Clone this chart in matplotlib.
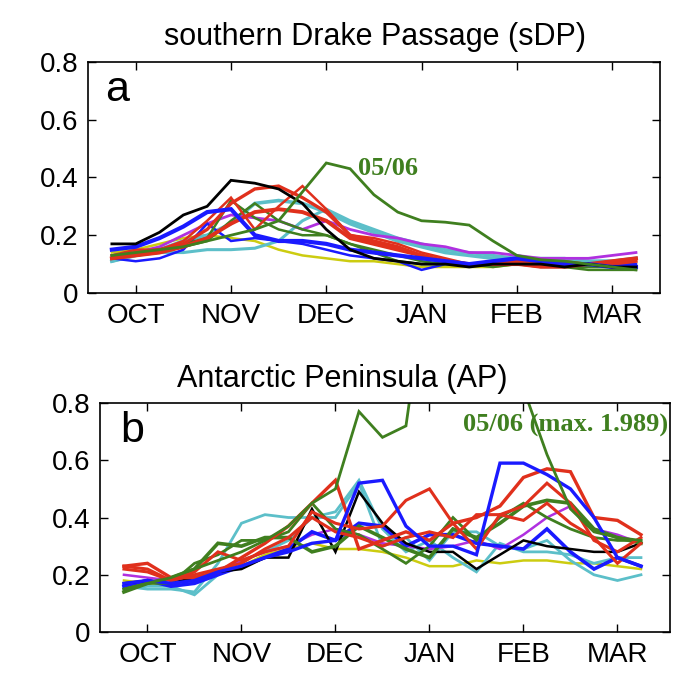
import matplotlib
matplotlib.use("Agg")
import matplotlib.pyplot as plt

plt.rcParams["font.family"] = ["Liberation Sans", "DejaVu Sans"]

# time axis, in months after 1 Oct (roughly weekly composites)
t = [-0.25, 0.0, 0.25, 0.5, 0.75, 1.0, 1.25, 1.5, 1.75, 2.0, 2.25, 2.5,
     2.75, 3.0, 3.25, 3.5, 3.75, 4.0, 4.25, 4.5, 4.75, 5.0, 5.25]
month_labels = ["OCT", "NOV", "DEC", "JAN", "FEB", "MAR"]
month_ticks = [0, 1, 2, 3, 4, 5]

# --- panel a: southern Drake Passage
a_black = [0.17, 0.17, 0.21, 0.27, 0.30, 0.39, 0.38, 0.36, 0.31, 0.22, 0.15, 0.12,
           0.11, 0.10, 0.10, 0.09, 0.10, 0.10, 0.10, 0.09, 0.10, 0.09, 0.09]
a_green0506 = [0.13, 0.14, 0.15, 0.16, 0.18, 0.20, 0.22, 0.25, 0.35, 0.45, 0.43, 0.34,
               0.28, 0.25, 0.245, 0.235, 0.18, 0.13, 0.115, 0.11, 0.10, 0.09, 0.08]
a_green2 = [0.13, 0.14, 0.15, 0.17, 0.19, 0.32, 0.26, 0.22, 0.20, 0.20, 0.17, 0.14,
            0.11, 0.10, 0.10, 0.10, 0.10, 0.10, 0.09, 0.09, 0.08, 0.08, 0.08]
a_green3 = [0.12, 0.13, 0.14, 0.16, 0.18, 0.25, 0.31, 0.25, 0.22, 0.20, 0.17, 0.15,
            0.13, 0.11, 0.10, 0.10, 0.09, 0.10, 0.10, 0.09, 0.09, 0.09, 0.09]
a_red1 = [0.12, 0.14, 0.15, 0.17, 0.22, 0.31, 0.36, 0.37, 0.33, 0.28, 0.20, 0.18,
          0.16, 0.13, 0.11, 0.10, 0.10, 0.10, 0.09, 0.09, 0.10, 0.10, 0.11]
a_red2 = [0.13, 0.15, 0.15, 0.18, 0.25, 0.33, 0.22, 0.30, 0.37, 0.29, 0.20, 0.19,
          0.17, 0.14, 0.12, 0.10, 0.11, 0.11, 0.11, 0.11, 0.10, 0.11, 0.12]
a_red3 = [0.12, 0.13, 0.14, 0.16, 0.19, 0.24, 0.28, 0.29, 0.28, 0.25, 0.19, 0.17,
          0.15, 0.13, 0.11, 0.10, 0.10, 0.10, 0.10, 0.10, 0.10, 0.11, 0.12]
a_blue1 = [0.15, 0.16, 0.19, 0.23, 0.28, 0.29, 0.20, 0.18, 0.18, 0.17, 0.15, 0.14,
           0.13, 0.12, 0.11, 0.10, 0.11, 0.12, 0.11, 0.10, 0.10, 0.09, 0.09]
a_blue2 = [0.12, 0.11, 0.12, 0.15, 0.24, 0.18, 0.19, 0.18, 0.17, 0.15, 0.13, 0.12,
           0.11, 0.08, 0.10, 0.10, 0.10, 0.10, 0.10, 0.10, 0.10, 0.10, 0.10]
a_cyan1 = [0.11, 0.13, 0.15, 0.18, 0.20, 0.24, 0.31, 0.32, 0.31, 0.28, 0.24, 0.21,
           0.18, 0.16, 0.14, 0.13, 0.12, 0.12, 0.11, 0.11, 0.11, 0.11, 0.12]
a_cyan2 = [0.11, 0.13, 0.14, 0.14, 0.15, 0.15, 0.155, 0.18, 0.25, 0.29, 0.25, 0.22,
           0.19, 0.17, 0.15, 0.14, 0.13, 0.12, 0.12, 0.12, 0.11, 0.11, 0.12]
a_magenta = [0.13, 0.14, 0.16, 0.20, 0.24, 0.27, 0.26, 0.25, 0.22, 0.25, 0.22, 0.20,
             0.19, 0.17, 0.16, 0.14, 0.14, 0.13, 0.12, 0.12, 0.12, 0.13, 0.14]
a_yellow = [0.14, 0.15, 0.17, 0.19, 0.20, 0.19, 0.18, 0.15, 0.13, 0.12, 0.11, 0.11,
            0.10, 0.09, 0.09, 0.09, 0.09, 0.10, 0.10, 0.10, 0.10, 0.10, 0.10]

# --- panel b: Antarctic Peninsula
b_black = [0.17, 0.18, 0.17, 0.19, 0.21, 0.22, 0.26, 0.26, 0.43, 0.28, 0.49, 0.38,
           0.31, 0.28, 0.28, 0.22, 0.27, 0.32, 0.30, 0.29, 0.28, 0.28, 0.31]
b_green0506 = [0.15, 0.17, 0.19, 0.22, 0.25, 0.28, 0.32, 0.37, 0.45, 0.50, 0.77, 0.68,
               0.72, 1.30, 1.989, 1.70, 1.30, 0.85, 0.62, 0.43, 0.35, 0.33, 0.32]
b_green2 = [0.14, 0.17, 0.19, 0.22, 0.31, 0.30, 0.33, 0.33, 0.28, 0.30, 0.37, 0.33,
            0.29, 0.26, 0.36, 0.33, 0.38, 0.44, 0.46, 0.45, 0.36, 0.33, 0.31]
b_green3 = [0.15, 0.17, 0.17, 0.24, 0.27, 0.32, 0.32, 0.35, 0.45, 0.36, 0.34, 0.29,
            0.24, 0.30, 0.40, 0.32, 0.40, 0.45, 0.40, 0.36, 0.33, 0.32, 0.32]
b_red1 = [0.23, 0.24, 0.19, 0.19, 0.21, 0.26, 0.31, 0.37, 0.45, 0.53, 0.29, 0.32,
          0.35, 0.32, 0.38, 0.40, 0.44, 0.54, 0.57, 0.56, 0.40, 0.39, 0.34]
b_red2 = [0.23, 0.22, 0.18, 0.21, 0.28, 0.25, 0.28, 0.30, 0.42, 0.38, 0.36, 0.37,
          0.46, 0.50, 0.38, 0.29, 0.41, 0.39, 0.45, 0.38, 0.33, 0.24, 0.31]
b_red3 = [0.22, 0.21, 0.18, 0.20, 0.22, 0.24, 0.29, 0.33, 0.40, 0.35, 0.33, 0.30,
          0.33, 0.35, 0.33, 0.41, 0.41, 0.44, 0.52, 0.45, 0.32, 0.28, 0.33]
b_blue1 = [0.17, 0.18, 0.17, 0.18, 0.21, 0.23, 0.26, 0.28, 0.31, 0.32, 0.52, 0.53,
           0.37, 0.30, 0.30, 0.27, 0.59, 0.59, 0.55, 0.50, 0.40, 0.26, 0.23]
b_blue2 = [0.16, 0.18, 0.16, 0.17, 0.20, 0.23, 0.26, 0.29, 0.35, 0.32, 0.38, 0.37,
           0.30, 0.34, 0.34, 0.31, 0.30, 0.29, 0.36, 0.28, 0.22, 0.26, 0.23]
b_cyan1 = [0.16, 0.15, 0.15, 0.14, 0.24, 0.38, 0.41, 0.40, 0.40, 0.40, 0.52, 0.30,
           0.33, 0.25, 0.35, 0.35, 0.30, 0.29, 0.32, 0.25, 0.20, 0.18, 0.20]
b_cyan2 = [0.15, 0.16, 0.16, 0.13, 0.20, 0.25, 0.28, 0.32, 0.40, 0.42, 0.53, 0.36,
           0.28, 0.32, 0.26, 0.21, 0.31, 0.28, 0.28, 0.27, 0.24, 0.26, 0.26]
b_magenta = [0.20, 0.19, 0.18, 0.19, 0.21, 0.25, 0.28, 0.30, 0.34, 0.36, 0.34, 0.31,
             0.30, 0.29, 0.30, 0.32, 0.29, 0.34, 0.40, 0.44, 0.36, 0.34, 0.31]
b_yellow = [0.18, 0.17, 0.17, 0.19, 0.21, 0.23, 0.27, 0.29, 0.31, 0.29, 0.29, 0.28,
            0.26, 0.23, 0.23, 0.25, 0.24, 0.25, 0.25, 0.24, 0.24, 0.23, 0.22]

BLACK = "black"
GREEN = "#3f7f1f"
RED = "#e0301c"
BLUE = "#1a1aff"
CYAN = "#5cbfc9"
MAGENTA = "#b030e0"
YELLOW = "#cccc10"

# (data, colour, linewidth)
series_a = [
    (a_yellow, YELLOW, 1.8), (a_cyan2, CYAN, 2.2), (a_cyan1, CYAN, 2.6),
    (a_magenta, MAGENTA, 2.0), (a_blue2, BLUE, 1.8), (a_green3, GREEN, 1.8),
    (a_green2, GREEN, 1.8), (a_red3, RED, 2.8), (a_red2, RED, 1.8),
    (a_red1, RED, 2.4), (a_blue1, BLUE, 3.0), (a_black, BLACK, 2.0),
    (a_green0506, GREEN, 2.0),
]
series_b = [
    (b_yellow, YELLOW, 1.8), (b_cyan2, CYAN, 2.0), (b_cyan1, CYAN, 2.0),
    (b_magenta, MAGENTA, 1.8), (b_blue2, BLUE, 2.6), (b_black, BLACK, 1.8),
    (b_green3, GREEN, 2.0), (b_green2, GREEN, 2.6), (b_red3, RED, 2.2),
    (b_red2, RED, 2.2), (b_red1, RED, 2.4), (b_blue1, BLUE, 2.4),
    (b_green0506, GREEN, 2.0),
]

fig = plt.figure(figsize=(6.88, 6.87), dpi=100)
ax_a = fig.add_axes([0.128, 0.5735, 0.831, 0.3365])
ax_b = fig.add_axes([0.146, 0.080, 0.828, 0.3334])

for ax, series, xmax in [(ax_a, series_a, 5.5), (ax_b, series_b, 5.56)]:
    for vals, col, lw in series:
        ax.plot(t, vals, color=col, lw=lw, solid_joinstyle="miter")
    ax.set_xlim(-0.5, xmax)
    ax.set_ylim(0, 0.8)
    ax.set_xticks(month_ticks)
    ax.set_xticklabels(month_labels)
    ax.set_yticks([0, 0.2, 0.4, 0.6, 0.8])
    ax.set_yticklabels(["0", "0.2", "0.4", "0.6", "0.8"])
    ax.tick_params(direction="in", length=6, width=1.0, top=True, right=True,
                   labelsize=20, pad=7)
    for sp in ax.spines.values():
        sp.set_linewidth(1.2)

ax_a.text(0.03, 0.83, "a", transform=ax_a.transAxes, fontsize=31, va="baseline")
ax_b.text(0.034, 0.83, "b", transform=ax_b.transAxes, fontsize=31, va="baseline")

ax_a.text(2.33, 0.41, "05/06", color=GREEN, fontsize=19, fontweight="bold",
          family="Liberation Serif", va="baseline")
ax_b.text(3.36, 0.70, "05/06 (max. 1.989)", color=GREEN, fontsize=19,
          fontweight="bold", family="Liberation Serif", va="baseline")

fig.text(375 / 688, 1 - 45 / 687, "southern Drake Passage (sDP)", ha="center",
         va="baseline", fontsize=22)
fig.text(342 / 688, 1 - 387 / 687, "Antarctic Peninsula (AP)", ha="center",
         va="baseline", fontsize=22)

fig.savefig("out.png", dpi=100)
